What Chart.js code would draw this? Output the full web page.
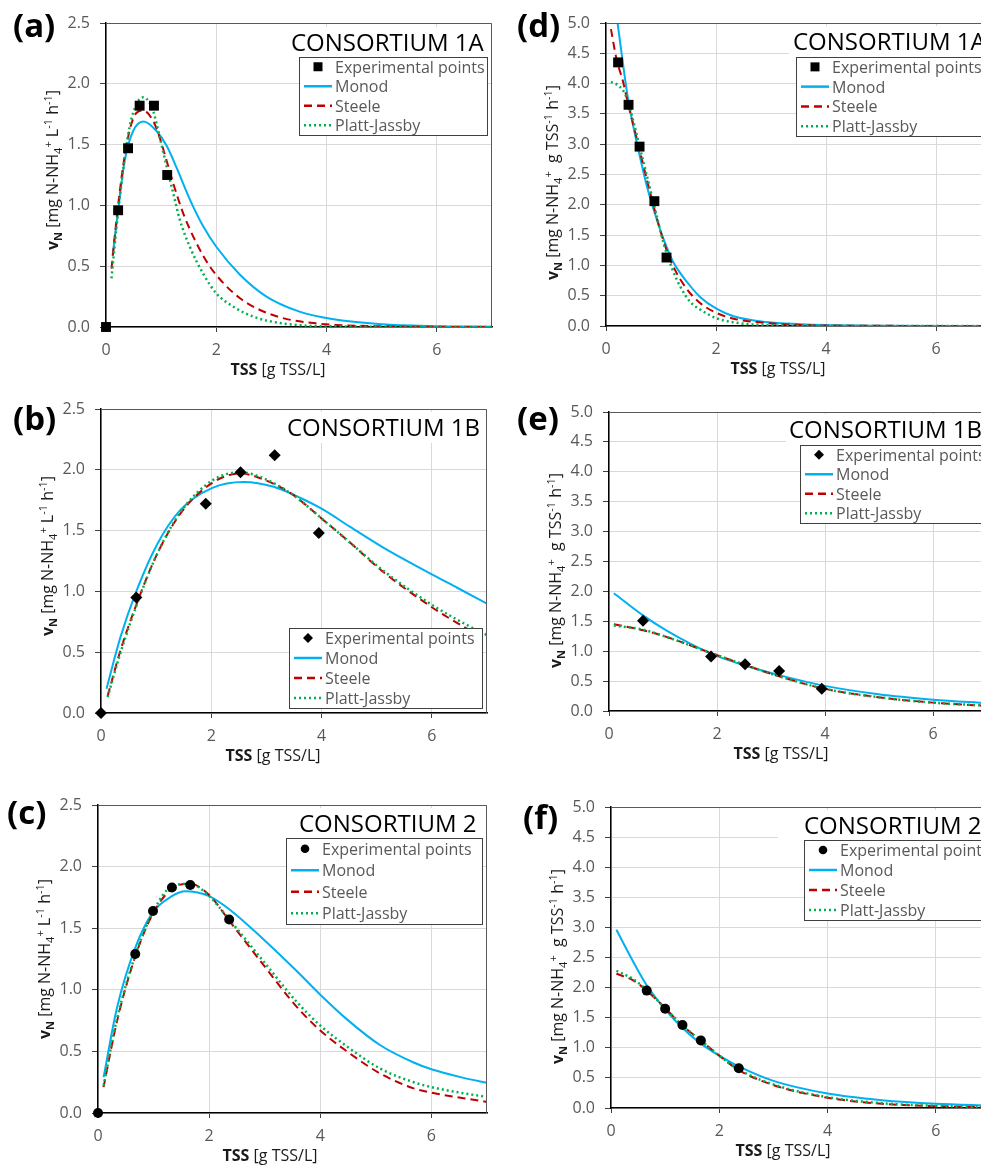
<!DOCTYPE html>
<html>
<head>
<meta charset="utf-8">
<script src="https://cdn.jsdelivr.net/npm/chart.js@4.4.1/dist/chart.umd.min.js"></script>
<style>
html, body { margin: 0; padding: 0; background: #fff; overflow: hidden; }
body { width: 981px; height: 1165px; position: relative; }
canvas { position: absolute; }
</style>
</head>
<body>
<canvas id="ca"></canvas>
<canvas id="cb"></canvas>
<canvas id="cc"></canvas>
<canvas id="cd"></canvas>
<canvas id="ce"></canvas>
<canvas id="cf"></canvas>
<script>
// ---- experimental points (TSS in g/L, rate) ----
const tssA = [0, 0.22, 0.40, 0.61, 0.87, 1.11];
const vA   = [0, 0.96, 1.47, 1.82, 1.82, 1.25];
const tssB = [0, 0.64, 1.90, 2.53, 3.15, 3.95];
const vB   = [0, 0.95, 1.72, 1.98, 2.12, 1.48];
const tssC = [0, 0.67, 0.99, 1.33, 1.66, 2.36];
const vC   = [0, 1.29, 1.64, 1.83, 1.85, 1.57];
const tssD = [0.22, 0.41, 0.61, 0.88, 1.10];
const vD   = [4.35, 3.65, 2.96, 2.06, 1.13];
const tssE = [0.63, 1.89, 2.52, 3.15, 3.94];
const vE   = [1.51, 0.91, 0.78, 0.67, 0.37];
const tssF = [0.66, 1.00, 1.32, 1.66, 2.36];
const vF   = [1.95, 1.65, 1.38, 1.12, 0.66];

// ---- model curves ----
const monodA_x  = [0.12, 0.22, 0.34, 0.49, 0.68, 0.92, 1.10, 1.28, 1.52, 1.76, 2.0, 2.43, 2.91, 3.51, 4.1, 5.0, 6.0, 7.0];
const monodA_y  = [0.59, 0.96, 1.37, 1.61, 1.69, 1.61, 1.49, 1.31, 1.05, 0.83, 0.66, 0.43, 0.25, 0.126, 0.065, 0.022, 0.007, 0.002];
const steeleA_x = [0.10, 0.19, 0.31, 0.43, 0.55, 0.68, 0.86, 0.95, 1.04, 1.22, 1.40, 1.64, 1.88, 2.13, 2.43, 2.73, 3.15, 3.8, 5.0, 7.0];
const steeleA_y = [0.48, 0.88, 1.32, 1.62, 1.76, 1.78, 1.69, 1.59, 1.46, 1.18, 0.935, 0.69, 0.50, 0.36, 0.236, 0.154, 0.08, 0.03, 0.006, 0];
const pjA_x     = [0.10, 0.19, 0.31, 0.43, 0.55, 0.68, 0.78, 0.86, 0.98, 1.10, 1.22, 1.34, 1.52, 1.76, 2.0, 2.31, 2.67, 3.2, 4.0, 7.0];
const pjA_y     = [0.40, 0.82, 1.29, 1.65, 1.83, 1.89, 1.85, 1.77, 1.55, 1.32, 1.10, 0.88, 0.66, 0.44, 0.277, 0.167, 0.085, 0.03, 0.006, 0];

const monodB_x  = [0.10, 0.35, 0.64, 1.01, 1.44, 2.01, 2.59, 3.13, 3.61, 4.0, 4.52, 5.12, 6.0, 6.46, 7.0];
const monodB_y  = [0.20, 0.62, 1.00, 1.38, 1.67, 1.85, 1.90, 1.86, 1.77, 1.68, 1.53, 1.36, 1.14, 1.03, 0.90];
const steeleB_x = [0.12, 0.35, 0.64, 1.01, 1.44, 2.01, 2.53, 2.95, 3.43, 3.61, 4.0, 4.52, 5.12, 6.0, 6.61, 7.0];
const steeleB_y = [0.14, 0.51, 0.89, 1.30, 1.64, 1.89, 1.97, 1.92, 1.81, 1.75, 1.60, 1.40, 1.16, 0.87, 0.70, 0.60];
const pjB_x     = [0.12, 0.35, 0.64, 1.01, 1.44, 2.01, 2.53, 2.95, 3.43, 3.61, 4.0, 4.52, 5.12, 6.0, 6.61, 7.0];
const pjB_y     = [0.13, 0.49, 0.88, 1.30, 1.65, 1.91, 1.98, 1.93, 1.81, 1.75, 1.60, 1.40, 1.17, 0.89, 0.73, 0.64];

const monodC_x  = [0.10, 0.34, 0.67, 0.99, 1.33, 1.57, 2.0, 2.4, 3.0, 3.58, 4.0, 4.48, 5.08, 5.68, 6.0, 6.58, 7.0];
const monodC_y  = [0.29, 0.85, 1.34, 1.63, 1.76, 1.80, 1.76, 1.64, 1.40, 1.15, 0.96, 0.76, 0.55, 0.41, 0.355, 0.285, 0.245];
const steeleC_x = [0.10, 0.34, 0.67, 0.99, 1.33, 1.66, 2.0, 2.38, 2.98, 3.58, 4.0, 4.48, 5.08, 5.68, 6.0, 6.58, 7.0];
const steeleC_y = [0.21, 0.74, 1.27, 1.62, 1.82, 1.86, 1.77, 1.55, 1.20, 0.86, 0.67, 0.50, 0.32, 0.20, 0.165, 0.12, 0.09];
const pjC_x     = [0.10, 0.34, 0.67, 0.99, 1.33, 1.66, 2.0, 2.38, 2.98, 3.58, 4.0, 4.48, 5.08, 5.68, 6.0, 6.58, 7.0];
const pjC_y     = [0.22, 0.76, 1.28, 1.63, 1.84, 1.86, 1.76, 1.56, 1.23, 0.90, 0.71, 0.54, 0.36, 0.25, 0.21, 0.16, 0.13];

const monodD_x  = [0.21, 0.40, 0.50, 0.61, 0.74, 0.88, 1.04, 1.22, 1.47, 1.71, 2.0, 2.32, 2.92, 3.53, 4.0, 5.0, 7.0];
const monodD_y  = [5.0, 3.75, 3.28, 2.82, 2.32, 1.88, 1.45, 1.06, 0.73, 0.48, 0.29, 0.16, 0.065, 0.03, 0.015, 0.005, 0];
const steeleD_x = [0.09, 0.19, 0.31, 0.40, 0.50, 0.62, 0.74, 0.88, 1.04, 1.22, 1.47, 1.71, 2.0, 2.32, 2.8, 3.2, 4.0, 7.0];
const steeleD_y = [4.90, 4.41, 4.03, 3.67, 3.31, 2.87, 2.43, 1.93, 1.42, 0.99, 0.61, 0.38, 0.22, 0.12, 0.06, 0.03, 0.008, 0];
const pjD_x     = [0.09, 0.25, 0.37, 0.50, 0.62, 0.74, 0.88, 1.04, 1.20, 1.35, 1.53, 1.77, 2.0, 2.32, 2.8, 3.5, 7.0];
const pjD_y     = [4.03, 3.95, 3.78, 3.37, 2.93, 2.49, 1.97, 1.39, 0.95, 0.65, 0.40, 0.24, 0.13, 0.06, 0.02, 0.005, 0];

const monodE_x  = [0.09, 0.63, 1.06, 1.89, 2.52, 3.15, 4.0, 4.99, 6.0, 7.0];
const monodE_y  = [1.97, 1.60, 1.35, 0.96, 0.76, 0.60, 0.42, 0.28, 0.19, 0.13];
const steeleE_x = [0.09, 0.63, 1.06, 1.89, 2.52, 3.15, 4.0, 4.99, 6.0, 7.0];
const steeleE_y = [1.45, 1.35, 1.24, 0.97, 0.77, 0.58, 0.37, 0.23, 0.14, 0.085];
const pjE_x     = [0.09, 0.63, 1.06, 1.89, 2.52, 3.15, 4.0, 4.99, 6.0, 7.0];
const pjE_y     = [1.43, 1.36, 1.24, 0.97, 0.77, 0.58, 0.37, 0.23, 0.14, 0.09];

const monodF_x  = [0.10, 0.41, 0.66, 1.0, 1.32, 1.66, 2.0, 2.36, 3.0, 4.0, 5.0, 6.0, 7.0];
const monodF_y  = [2.96, 2.43, 2.04, 1.64, 1.33, 1.07, 0.87, 0.69, 0.45, 0.24, 0.13, 0.07, 0.04];
const steeleF_x = [0.10, 0.41, 0.66, 1.0, 1.32, 1.66, 2.0, 2.36, 3.0, 4.0, 5.0, 6.0, 7.0];
const steeleF_y = [2.23, 2.12, 1.95, 1.66, 1.37, 1.12, 0.87, 0.63, 0.38, 0.17, 0.07, 0.03, 0.01];
const pjF_x     = [0.10, 0.41, 0.66, 1.0, 1.32, 1.66, 2.0, 2.36, 3.0, 4.0, 5.0, 6.0, 7.0];
const pjF_y     = [2.28, 2.14, 1.96, 1.66, 1.37, 1.12, 0.87, 0.64, 0.39, 0.18, 0.08, 0.035, 0.015];

const seriesNames = ['Experimental points', 'Monod', 'Steele', 'Platt-Jassby'];

const MONOD = '#00B0F0', STEELE = '#C00000', PJ = '#00B050';
const FONT = "'Open Sans', sans-serif";

Chart.defaults.font.family = FONT;
Chart.defaults.color = '#595959';

// rich text pieces for the axis titles
const yTitleVol = [{t:'v',b:1},{t:'N',b:1,sub:1},{t:' [mg N-NH'},{t:'4',sub:1},{t:'+',sup:1},{t:' L'},{t:'-1',sup:1},{t:' h'},{t:'-1',sup:1},{t:']'}];
const yTitleSpec = [{t:'v',b:1},{t:'N',b:1,sub:1},{t:' [mg N-NH'},{t:'4',sub:1},{t:'+',sup:1},{t:'  g TSS'},{t:'-1',sup:1},{t:' h'},{t:'-1',sup:1},{t:']'}];
const xTitle = [{t:'TSS',b:1},{t:' [g TSS/L]'}];

const panels = [
  {cid:'ca', label:'(a)', title:'CONSORTIUM 1A', L:106, T:23, R:492, B:327, yMax:2.5, yStep:0.5, yTitle:yTitleVol, yTitleDy:-5,
   labelX:13, labelY:37, titleX:291, titleY:51, titleBgX:287, legend:{x:299, y:57, w:188, h:78},
   marker:'rect', r:7, lr:4.5,
   exp:[tssA, vA], monod:[monodA_x, monodA_y], steele:[steeleA_x, steeleA_y], pj:[pjA_x, pjA_y]},
  {cid:'cb', label:'(b)', title:'CONSORTIUM 1B', L:101, T:409, R:487, B:713, yMax:2.5, yStep:0.5, yTitle:yTitleVol, yTitleDy:-5,
   labelX:13, labelY:430, titleX:287, titleY:436, titleBgX:283, legend:{x:289, y:628, w:193, h:80},
   marker:'rectRot', r:6, lr:5,
   exp:[tssB, vB], monod:[monodB_x, monodB_y], steele:[steeleB_x, steeleB_y], pj:[pjB_x, pjB_y]},
  {cid:'cc', label:'(c)', title:'CONSORTIUM 2', L:98, T:805, R:487, B:1113, yMax:2.5, yStep:0.5, yTitle:yTitleVol, yTitleDy:0,
   labelX:7, labelY:824, titleX:299, titleY:832, titleBgX:295, legend:{x:286, y:838, w:196, h:86},
   marker:'circle', r:5, lr:4.3,
   exp:[tssC, vC], monod:[monodC_x, monodC_y], steele:[steeleC_x, steeleC_y], pj:[pjC_x, pjC_y]},
  {cid:'cd', label:'(d)', title:'CONSORTIUM 1A', L:606, T:23, R:991, B:326, yMax:5, yStep:0.5, yTitle:yTitleSpec, yTitleDy:8,
   labelX:517, labelY:37, titleX:793, titleY:50, titleBgX:789, legend:{x:796, y:57, w:195, h:79},
   marker:'rect', r:7, lr:4.5,
   exp:[tssD, vD], monod:[monodD_x, monodD_y], steele:[steeleD_x, steeleD_y], pj:[pjD_x, pjD_y]},
  {cid:'ce', label:'(e)', title:'CONSORTIUM 1B', L:609, T:412, R:987, B:711, yMax:5, yStep:0.5, yTitle:yTitleSpec, yTitleDy:9,
   labelX:517, labelY:430, titleX:789, titleY:438, titleBgX:786, legend:{x:800, y:445, w:195, h:78},
   marker:'rectRot', r:6, lr:5,
   exp:[tssE, vE], monod:[monodE_x, monodE_y], steele:[steeleE_x, steeleE_y], pj:[pjE_x, pjE_y]},
  {cid:'cf', label:'(f)', title:'CONSORTIUM 2', L:611, T:807, R:990, B:1108, yMax:5, yStep:0.5, yTitle:yTitleSpec, yTitleDy:9,
   labelX:523, labelY:829, titleX:804, titleY:834, titleBgX:778, legend:{x:804, y:840, w:195, h:80},
   marker:'circle', r:5, lr:4.3,
   exp:[tssF, vF], monod:[monodF_x, monodF_y], steele:[steeleF_x, steeleF_y], pj:[pjF_x, pjF_y]}
];

function pts(xs, ys) {
  return xs.map((x, i) => ({x: x, y: ys[i]}));
}

function segFont(s) {
  return (s.b ? 'bold ' : '') + ((s.sub || s.sup) ? 11 : 16) + 'px ' + FONT;
}

function drawRich(ctx, segs, cx, cy, vertical) {
  ctx.save();
  ctx.translate(cx, cy);
  if (vertical) ctx.rotate(-Math.PI / 2);
  let w = 0;
  segs.forEach(s => { ctx.font = segFont(s); w += ctx.measureText(s.t).width; });
  let x = -w / 2;
  ctx.fillStyle = '#1a1a1a';
  ctx.textAlign = 'left';
  ctx.textBaseline = 'alphabetic';
  segs.forEach(s => {
    ctx.font = segFont(s);
    const dy = s.sub ? 4 : (s.sup ? -6 : 0);
    ctx.fillText(s.t, x, 6 + dy);
    x += ctx.measureText(s.t).width;
  });
  ctx.restore();
}

function drawMarker(ctx, style, x, y, r) {
  ctx.fillStyle = '#000';
  ctx.beginPath();
  if (style === 'rect') {
    ctx.rect(x - r, y - r, 2 * r, 2 * r);
  } else if (style === 'rectRot') {
    ctx.moveTo(x, y - r); ctx.lineTo(x + r, y); ctx.lineTo(x, y + r); ctx.lineTo(x - r, y); ctx.closePath();
  } else {
    ctx.arc(x, y, r, 0, Math.PI * 2);
  }
  ctx.fill();
}

// frame, title, legend, panel letter and axis titles
const decor = {
  id: 'decor',
  afterDraw(chart) {
    const p = chart.options.plugins.decor.panel;
    const ctx = chart.ctx, a = chart.chartArea;
    const ox = p.L - 100, oy = p.T - 25;
    ctx.save();

    ctx.strokeStyle = '#595959';
    ctx.lineWidth = 1;
    ctx.setLineDash([]);
    ctx.beginPath();
    ctx.moveTo(a.left, a.top + 0.5);
    ctx.lineTo(a.right - 0.5, a.top + 0.5);
    ctx.lineTo(a.right - 0.5, a.bottom);
    ctx.stroke();

    // title with white box behind it
    ctx.font = '24px ' + FONT;
    const tw = ctx.measureText(p.title).width;
    ctx.fillStyle = '#fff';
    ctx.fillRect(p.titleBgX - ox, p.titleY - oy - 24, (p.titleX - p.titleBgX) + tw + 6, 31);
    ctx.fillStyle = '#000';
    ctx.textAlign = 'left';
    ctx.textBaseline = 'alphabetic';
    ctx.fillText(p.title, p.titleX - ox, p.titleY - oy);

    // legend
    const lg = p.legend;
    const lx = lg.x - ox, ly = lg.y - oy;
    ctx.fillStyle = '#fff';
    ctx.fillRect(lx, ly, lg.w, lg.h);
    ctx.strokeStyle = '#404040';
    ctx.lineWidth = 1;
    ctx.strokeRect(lx + 0.5, ly + 0.5, lg.w, lg.h);
    const styles = [null, {c: MONOD, d: []}, {c: STEELE, d: [8, 5]}, {c: PJ, d: [2, 3]}];
    seriesNames.forEach((name, i) => {
      const cy = ly + lg.h * (i + 0.5) / 4;
      if (i === 0) {
        drawMarker(ctx, p.marker, lx + 19, cy, p.lr);
      } else {
        ctx.strokeStyle = styles[i].c;
        ctx.lineWidth = 2.5;
        ctx.setLineDash(styles[i].d);
        ctx.beginPath();
        ctx.moveTo(lx + 5, cy);
        ctx.lineTo(lx + 33, cy);
        ctx.stroke();
        ctx.setLineDash([]);
      }
      ctx.fillStyle = '#595959';
      ctx.font = '16px ' + FONT;
      ctx.fillText(name, lx + 36, cy + 6);
    });

    // panel letter
    ctx.fillStyle = '#000';
    ctx.font = 'bold 33px ' + FONT;
    ctx.fillText(p.label, p.labelX - ox, p.labelY - oy);

    // axis titles
    drawRich(ctx, p.yTitle, a.left - 54, (a.top + a.bottom) / 2 + p.yTitleDy, true);
    drawRich(ctx, xTitle, a.left + 172, a.bottom + 42, false);
    ctx.restore();
  }
};

panels.forEach(p => {
  const cv = document.getElementById(p.cid);
  const w = (p.R - p.L) + 110, h = (p.B - p.T) + 25 + 62;
  cv.width = w; cv.height = h;
  cv.style.width = w + 'px'; cv.style.height = h + 'px';
  cv.style.left = (p.L - 100) + 'px';
  cv.style.top = (p.T - 25) + 'px';

  const curve = (xy, color, dash) => ({
    data: pts(xy[0], xy[1]),
    showLine: true,
    borderColor: color,
    borderWidth: dash.length && dash[0] < 4 ? 2.5 : 2,
    borderDash: dash,
    pointRadius: 0,
    fill: false,
    cubicInterpolationMode: 'monotone'
  });

  new Chart(cv, {
    type: 'scatter',
    data: {
      datasets: [
        {
          label: seriesNames[0],
          data: pts(p.exp[0], p.exp[1]),
          pointStyle: p.marker,
          pointRadius: p.r,
          backgroundColor: '#000',
          borderColor: '#000',
          borderWidth: 0,
          showLine: false,
          clip: false
        },
        Object.assign({label: seriesNames[3]}, curve(p.pj, PJ, [2, 3])),
        Object.assign({label: seriesNames[2]}, curve(p.steele, STEELE, [8, 5])),
        Object.assign({label: seriesNames[1]}, curve(p.monod, MONOD, []))
      ]
    },
    options: {
      responsive: false,
      animation: false,
      events: [],
      layout: {padding: {top: 25, right: 10, left: 0, bottom: 0}},
      plugins: {
        legend: {display: false},
        tooltip: {enabled: false},
        decor: {panel: p}
      },
      scales: {
        x: {
          type: 'linear', min: 0, max: 7,
          ticks: {stepSize: 2, includeBounds: false, padding: 9, color: '#595959', font: {size: 16}, maxRotation: 0},
          grid: {color: '#D9D9D9', tickColor: '#404040', tickLength: 5},
          border: {color: '#000', width: 1.5},
          afterFit: s => { s.height = 62; }
        },
        y: {
          type: 'linear', min: 0, max: p.yMax,
          ticks: {stepSize: p.yStep, padding: 10, color: '#595959', font: {size: 16}, callback: v => v.toFixed(1)},
          grid: {color: '#D9D9D9', tickColor: '#404040', tickLength: 6},
          border: {color: '#000', width: 1.5},
          afterFit: s => { s.width = 100; }
        }
      }
    },
    plugins: [decor]
  });
});
</script>
</body>
</html>
